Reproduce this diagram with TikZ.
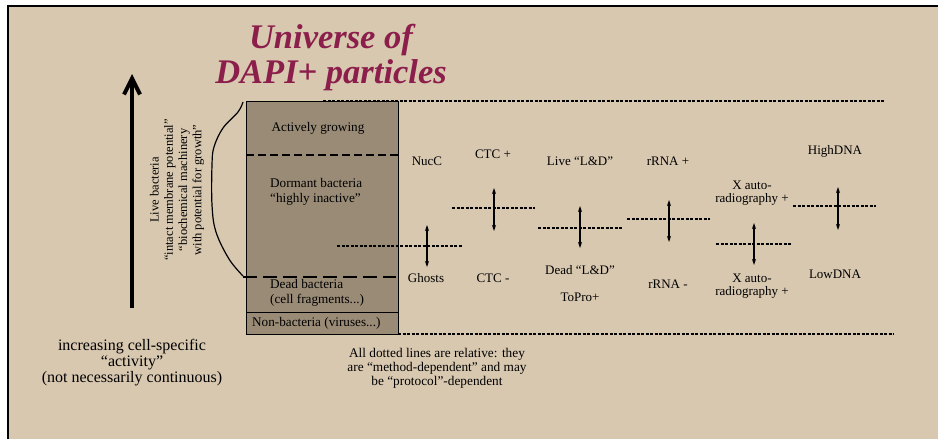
\documentclass[tikz,border=0pt]{standalone}
\usepackage{fontspec}
\setmainfont{Liberation Serif}
\usetikzlibrary{arrows.meta}
\definecolor{bg}{HTML}{D8C8B0}
\definecolor{boxc}{HTML}{9A8B76}
\definecolor{titlec}{HTML}{8B1E4B}
\begin{document}
\begin{tikzpicture}[x=1pt,y=-1pt,
 dotline/.style={line width=1.8pt, dash pattern=on 3pt off 1.5pt},
 lbl/.style={font=\fontsize{13}{13.5}\selectfont, align=center, inner sep=0pt},
 boxlbl/.style={font=\fontsize{13.2}{14.5}\selectfont, align=left, inner sep=0pt, anchor=west},
 dbl/.style={line width=1.1pt, {Stealth[length=6pt,width=4pt]}-{Stealth[length=6pt,width=4pt]}},
]
\useasboundingbox (0,0) rectangle (938,439);
\fill[white] (0,0) rectangle (938,439);
\fill[bg] (8,6) rectangle (938,439);
\draw[line width=1.5pt] (8,439) -- (8,6) -- (938,6);

% title
\node[font=\fontsize{34.5}{35}\selectfont\bfseries\itshape, text=titlec, align=center, inner sep=0pt] (title) at (331,58) {Universe of\\DAPI+ particles};

% box
\node[draw, fill=boxc, line width=1pt, minimum width=152pt, minimum height=233pt, inner sep=0pt] (box) at (322,217.5) {};
\draw[line width=1.3pt, dash pattern=on 8pt off 4pt] (246,155) -- (398,155);
\draw[line width=2pt, dash pattern=on 14pt off 6pt] (243,277) -- (396,277);
\draw[line width=0.8pt] (246,312) -- (398,312);

\node[lbl, font=\fontsize{13.2}{14.5}\selectfont] (act) at (318,128) {Actively growing};
\node[boxlbl] (dorm) at (270,192) {Dormant bacteria\\“highly inactive”};
\node[boxlbl] (dead) at (270,293) {Dead bacteria\\(cell fragments...)};
\node[boxlbl] (nonb) at (252,323) {Non-bacteria (viruses...)};

% dotted lines
\draw[dotline] (323,101) -- (885,101);
\draw[dotline] (398,334) -- (894,334);
\draw[dotline] (337,246) -- (463,246);
\draw[dotline] (452,208) -- (535,208);
\draw[dotline] (538,228) -- (622,228);
\draw[dotline] (627,219) -- (710,219);
\draw[dotline] (716,244) -- (791,244);
\draw[dotline] (793,206) -- (876,206);

% column labels
\node[lbl] (nucc) at (427,161) {NucC};
\node[lbl] (ghost) at (426,278) {Ghosts};
\node[lbl] (ctcp) at (493,154) {CTC +};
\node[lbl] (ctcm) at (493,278) {CTC -};
\node[lbl] (live) at (580,161) {Live “L\&D”};
\node[lbl] (deadld) at (580,270) {Dead “L\&D”};
\node[lbl] (topro) at (580,297) {ToPro+};
\node[lbl] (rrnap) at (668,161) {rRNA +};
\node[lbl] (rrnam) at (668,284) {rRNA -};
\node[lbl] (xp) at (752,193) {X auto-\\radiography +};
\node[lbl] (xm) at (752,286) {X auto-\\radiography +};
\node[lbl] (high) at (835,151) {HighDNA};
\node[lbl] (low) at (835,274) {LowDNA};

% double arrows
\coordinate (a1t) at (427,225); \coordinate (a1b) at (427,267);
\coordinate (a2t) at (494,188); \coordinate (a2b) at (494,231);
\coordinate (a3t) at (580,206); \coordinate (a3b) at (580,248);
\coordinate (a4t) at (669,200); \coordinate (a4b) at (669,242);
\coordinate (a5t) at (754,223); \coordinate (a5b) at (754,265);
\coordinate (a6t) at (838,187); \coordinate (a6b) at (838,230);
\draw[dbl] (a1t) -- (a1b);
\draw[dbl] (a2t) -- (a2b);
\draw[dbl] (a3t) -- (a3b);
\draw[dbl] (a4t) -- (a4b);
\draw[dbl] (a5t) -- (a5b);
\draw[dbl] (a6t) -- (a6b);

% big arrow
\coordinate (bigb) at (132,308);
\coordinate (bigt) at (132,74);
\draw[line width=4pt, -{Straight Barb[length=16pt,width=16pt]}] (bigb) -- (bigt);

% brace
\draw[line width=1.2pt] plot[smooth, tension=0.6] coordinates {(243,102) (238,112) (223,128) (214,147) (212,165) (212,205) (216,232) (229,259) (243,276)};

% rotated text
\node[rotate=90, font=\fontsize{12.5}{14.3}\selectfont, align=center, inner sep=0pt] (livebac) at (177,190) {Live bacteria\\“intact membrane potential”\\“biochemical machinery\\with potential for growth”};

% bottom texts
\node[font=\fontsize{16}{16}\selectfont, align=center, inner sep=0pt] (incr) at (132,363) {increasing cell-specific\\“activity”\\(not necessarily continuous)};
\node[font=\fontsize{13.3}{14.2}\selectfont, align=center, inner sep=0pt] (note) at (437,368) {All dotted lines are relative: they\\are “method-dependent” and may\\be “protocol”-dependent};
\end{tikzpicture}
\end{document}
